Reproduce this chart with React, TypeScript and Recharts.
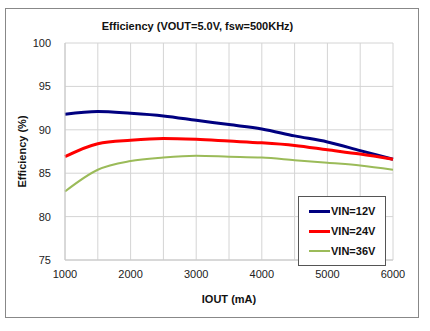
import { LineChart, Line, XAxis, YAxis, CartesianGrid, Legend, Label } from 'recharts';

// IOUT (mA) sample points
const iout = [1000, 1500, 2000, 2500, 3000, 3500, 4000, 4500, 5000, 5500, 6000];
// efficiency (%) per input voltage
const vin12 = [91.8, 92.1, 91.9, 91.6, 91.1, 90.6, 90.1, 89.3, 88.6, 87.6, 86.6];
const vin24 = [86.9, 88.4, 88.8, 89.0, 88.9, 88.7, 88.5, 88.2, 87.7, 87.2, 86.6];
const vin36 = [82.9, 85.4, 86.4, 86.8, 87.0, 86.9, 86.8, 86.5, 86.2, 85.9, 85.4];

const xTicks = [1000, 2000, 3000, 4000, 5000, 6000];
const xGrid = [1000, 1500, 2000, 2500, 3000, 3500, 4000, 4500, 5000, 5500, 6000];
const yTicks = [75, 80, 85, 90, 95, 100];

const series = [
  { key: 'v12', name: 'VIN=12V', color: '#000080', width: 3 },
  { key: 'v24', name: 'VIN=24V', color: '#ff0000', width: 3 },
  { key: 'v36', name: 'VIN=36V', color: '#9bbb59', width: 2 },
];

const data = iout.map((x, i) => ({ x, v12: vin12[i], v24: vin24[i], v36: vin36[i] }));

const font = 'Arial, "Liberation Sans", sans-serif';

const LegendBox = () => (
  <div
    style={{
      border: '1px solid #555',
      background: '#fff',
      padding: '4px 0 4px 10px',
      fontFamily: font,
      fontWeight: 'bold',
      fontSize: 11,
      color: '#111',
    }}
  >
    {series.map((s) => (
      <div key={s.key} style={{ display: 'flex', alignItems: 'center', height: 20 }}>
        <span style={{ display: 'inline-block', width: 21, height: s.width, background: s.color, marginRight: 1 }} />
        {s.name}
      </div>
    ))}
  </div>
);

export default function App() {
  return (
    <div style={{ position: 'absolute', left: 0, top: 0, width: 430, height: 331, background: '#fff' }}>
      <div
        style={{
          position: 'absolute',
          left: 5,
          top: 8,
          width: 412,
          height: 308,
          border: '1px solid #888',
        }}
      />
      <div
        style={{
          position: 'absolute',
          left: 0,
          width: 395,
          top: 20,
          textAlign: 'center',
          fontFamily: font,
          fontWeight: 'bold',
          fontSize: 11,
          color: '#111',
        }}
      >
        Efficiency (VOUT=5.0V, fsw=500KHz)
      </div>
      <div style={{ position: 'absolute', left: 0, top: 0 }}>
        <LineChart width={430} height={331} data={data} margin={{ top: 43, right: 37, bottom: 41, left: 35 }}>
          <CartesianGrid
            stroke="#d4d4d4"
            strokeWidth={1}
            verticalCoordinatesGenerator={({ offset }: any) =>
              xGrid.map((v) => offset.left + ((v - 1000) / 5000) * offset.width)
            }
          />
          <XAxis
            dataKey="x"
            type="number"
            domain={[1000, 6000]}
            ticks={xTicks}
            height={30}
            tickLine={false}
            tickSize={6}
            tickMargin={4}
            axisLine={{ stroke: '#c8c8c8' }}
            tick={{ fill: '#222', fontSize: 11, fontFamily: font }}
          >
            <Label
              value="IOUT (mA)"
              position="insideBottom"
              offset={-13}
              style={{ fill: '#111', fontSize: 11, fontWeight: 'bold', fontFamily: font }}
            />
          </XAxis>
          <YAxis
            type="number"
            domain={[75, 100]}
            ticks={yTicks}
            width={30}
            tickLine={false}
            tickSize={6}
            tickMargin={8}
            axisLine={{ stroke: '#c8c8c8' }}
            tick={{ fill: '#222', fontSize: 11, fontFamily: font }}
          >
            <Label
              value="Efficiency (%)"
              angle={-90}
              position="center"
              dx={-28}
              style={{ fill: '#111', fontSize: 11, fontWeight: 'bold', fontFamily: font, textAnchor: 'middle' }}
            />
          </YAxis>
          <Legend
            layout="vertical"
            align="center"
            verticalAlign="middle"
            content={() => <LegendBox />}
            wrapperStyle={{ left: 298, top: 196, width: 88 }}
          />
          {series.map((s) => (
            <Line
              key={s.key}
              type="monotone"
              dataKey={s.key}
              name={s.name}
              stroke={s.color}
              strokeWidth={s.width}
              dot={false}
              activeDot={false}
              isAnimationActive={false}
            />
          ))}
        </LineChart>
      </div>
    </div>
  );
}
